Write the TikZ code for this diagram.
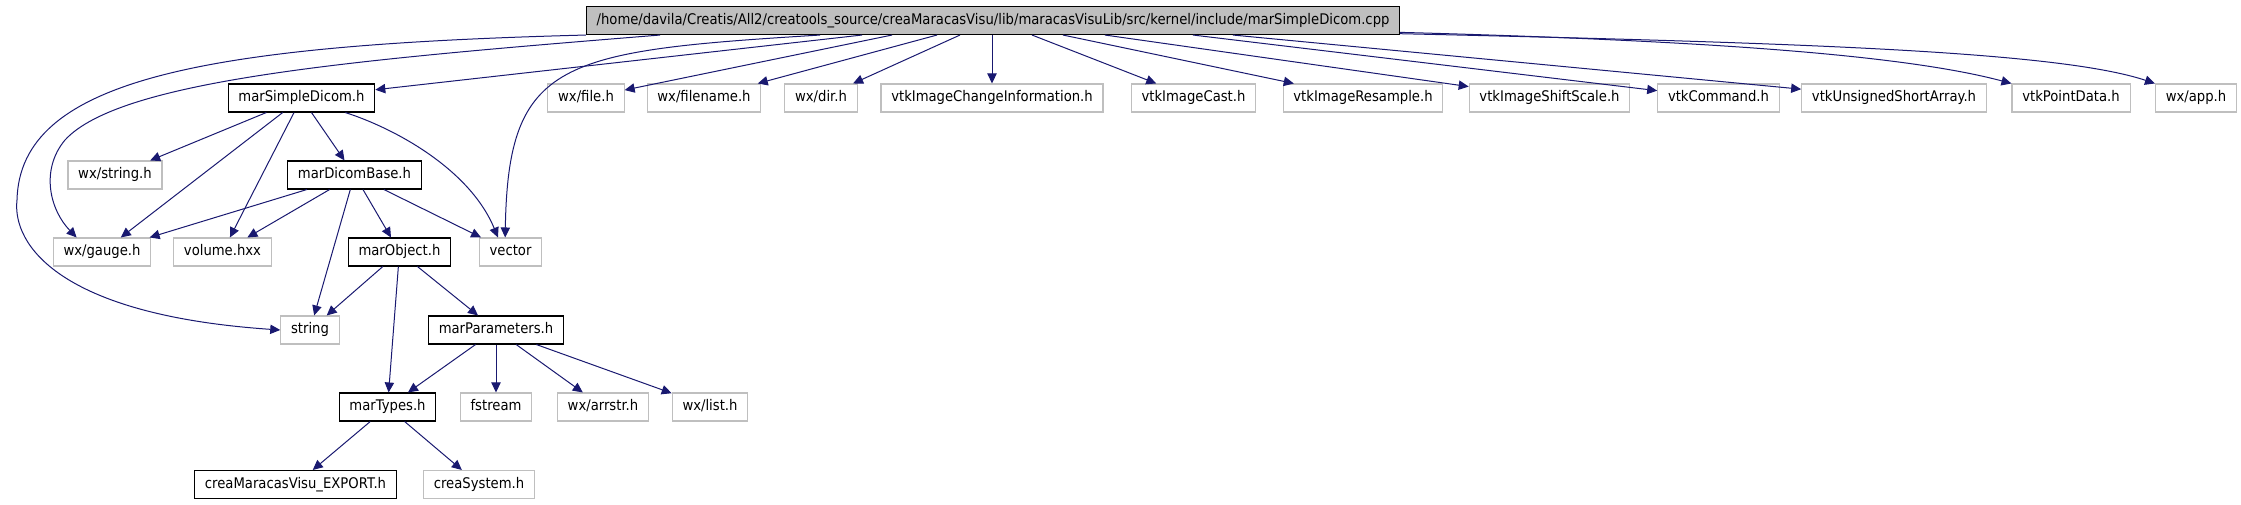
\documentclass[tikz,border=0pt]{standalone}
\usepackage{fontspec}
\setmainfont{DejaVu Sans}[FakeStretch=0.9]
\usetikzlibrary{arrows.meta}
\definecolor{midnightblue}{RGB}{25,25,112}
\definecolor{grey75}{RGB}{191,191,191}

\begin{document}
\begin{tikzpicture}[x=0.75pt, y=-0.75pt,
every node/.style={font=\fontsize{11}{13}\selectfont, inner xsep=7.7pt, inner ysep=0pt,
    minimum height=21pt, text height=8.2pt, text depth=2.3pt, line width=0.8pt
    },
doc/.style={draw=black, fill=white},
nodoc/.style={draw=grey75, fill=white},
dep/.style={midnightblue, line width=0.75pt, -{Triangle[length=7.5pt,width=7pt]}}
]
\useasboundingbox (0,0) rectangle (2241,504);

% row 1
\node[doc, fill=grey75] (root) at (993,20.5) {/home/davila/Creatis/All2/creatools\_source/creaMaracasVisu/lib/maracasVisuLib/src/kernel/include/marSimpleDicom.cpp};
% row 2
\node[doc]   (msd)       at (301.5,98) {marSimpleDicom.h};
\node[nodoc] (file)      at (586,98)   {wx/file.h};
\node[nodoc] (filename)  at (704,98)   {wx/filename.h};
\node[nodoc] (dir)       at (821,98)   {wx/dir.h};
\node[nodoc] (ichange)   at (992,98)   {vtkImageChangeInformation.h};
\node[nodoc] (icast)     at (1193.5,98) {vtkImageCast.h};
\node[nodoc] (iresample) at (1363,98)  {vtkImageResample.h};
\node[nodoc] (ishift)    at (1549.5,98) {vtkImageShiftScale.h};
\node[nodoc] (command)   at (1718.5,98) {vtkCommand.h};
\node[nodoc] (ushort)    at (1894,98)  {vtkUnsignedShortArray.h};
\node[nodoc] (pointdata) at (2071,98)  {vtkPointData.h};
\node[nodoc] (app)       at (2196,98)  {wx/app.h};
% row 3
\node[nodoc] (wxstring)  at (115,175)   {wx/string.h};
\node[doc]   (dicombase) at (354.5,175) {marDicomBase.h};
% row 4
\node[nodoc] (gauge)     at (102,252)   {wx/gauge.h};
\node[nodoc] (volume)    at (222.5,252) {volume.hxx};
\node[doc]   (object)    at (399.5,252) {marObject.h};
\node[nodoc] (vector)    at (510.5,252) {vector};
% row 5
\node[nodoc] (string)    at (310,330)   {string};
\node[doc]   (params)    at (496,330)   {marParameters.h};
% row 6
\node[doc]   (types)     at (387.5,407) {marTypes.h};
\node[nodoc] (fstream)   at (496,407)   {fstream};
\node[nodoc] (arrstr)    at (603,407)   {wx/arrstr.h};
\node[nodoc] (list)      at (710,407)   {wx/list.h};
% row 7
\node[doc]   (export)    at (295.5,484.5) {creaMaracasVisu\_EXPORT.h};
\node[nodoc] (system)    at (479,484.5)   {creaSystem.h};

\foreach \s/\t in {-131/msd, -101/file, -56/filename, -33/dir, -1/ichange,
                   39/icast, 70/iresample, 112/ishift, 200/command, 240/ushort}
    \draw[dep] ([xshift=\s*0.75pt]root.south) -- (\t);

\foreach \a/\b in { msd/wxstring, msd/gauge, msd/volume, msd/dicombase,
                    dicombase/gauge, dicombase/volume, dicombase/string,
                    dicombase/object, dicombase/vector,
                    object/string, object/types, object/params,
                    params/types, params/fstream, params/arrstr, params/list,
                    types/export, types/system%
            }
    \draw[dep] (\a) -- (\b);

% curved ones
\draw[dep] (root.south west) .. controls (200,45) and (20,80) .. (17,200)
    .. controls (12,245) and (60,315) .. (string.west);
\draw[dep] ([xshift=-333*0.75pt]root.south) .. controls (350,60) and (120,80) .. (65,140)
    .. controls (40,170) and (50,210) .. ([xshift=-19pt]gauge.north);
\draw[dep] ([xshift=-173*0.75pt]root.south) .. controls +(-260,16) and +(3,-177) .. ([xshift=-4pt]vector.north);
\draw[dep] ([xshift=-22.5pt]msd.south east) .. controls +(50,16) and +(-28,-68) .. ([xshift=-9.4pt]vector.north);
\draw[dep] ([yshift=2pt]root.south east) .. controls +(301,8) and +(-109,-29) .. (pointdata.north west);
\draw[dep] ([yshift=1pt]root.south east) .. controls +(401,9) and +(-96,-32) .. (app.north west);
\end{tikzpicture}
\end{document}
